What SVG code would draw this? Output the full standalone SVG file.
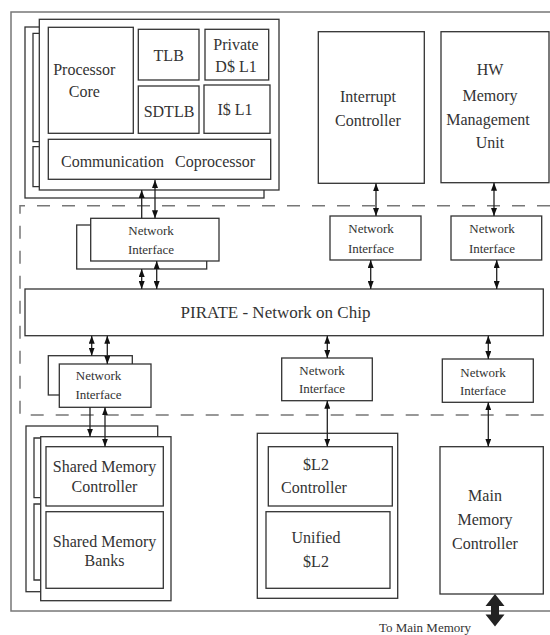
<svg xmlns="http://www.w3.org/2000/svg" width="550" height="635" viewBox="0 0 550 635">
  <style>
    .box { fill: #fff; stroke: #333; stroke-width: 1.3; }
    .shadow { fill: none; stroke: #333; stroke-width: 1.3; }
    .frame { fill: none; stroke: #777; stroke-width: 1.5; }
    .dash { fill: none; stroke: #777; stroke-width: 1.5; stroke-dasharray: 13 12; }
    .lbl { font-family: 'Liberation Serif', 'Times New Roman', 'DejaVu Serif', serif; font-size: 16px; fill: #333; text-anchor: middle; }
    .ni { font-size: 13px; }
    .big { font-size: 17px; }
    .link { stroke: #222; stroke-width: 1.3; fill: none; }
  </style>
  <defs>
    <marker id="ah" viewBox="0 0 8 6" refX="8" refY="3" markerWidth="8" markerHeight="6" markerUnits="userSpaceOnUse" orient="auto-start-reverse">
      <path d="M0,0 L8,3 L0,6 z" fill="#111"/>
    </marker>
  </defs>

  <rect fill="#fff" x="0" y="0" width="550" height="635"/>

  <!-- chip boundary and network region -->
  <rect class="frame" x="11" y="12" width="560" height="599"/>
  <path class="dash" d="M550,205.7 H20 V415 H550"/>

  <!-- processor tile stack -->
  <g id="processor-tile">
    <rect class="box" x="25" y="27" width="239" height="171"/>
    <path class="shadow" d="M39.3,33.3 H33 V141.7 H39.3 M39.3,146.7 H33 V186.7 H39.3"/>
    <rect class="box" x="39.3" y="19.3" width="239.7" height="170.7"/>
    <rect class="box" x="48.3" y="27.3" width="85" height="106"/>
    <text class="lbl" x="84.3" y="75" font-family="Liberation Serif, serif">Processor</text>
    <text class="lbl" x="84.3" y="96.7">Core</text>
    <rect class="box" x="138.3" y="29.3" width="60.7" height="50.7"/>
    <text class="lbl" x="168.7" y="61">TLB</text>
    <rect class="box" x="205" y="29.3" width="63.7" height="50.7"/>
    <text class="lbl" x="236" y="50">Private</text>
    <text class="lbl" x="236" y="71.7">D$ L1</text>
    <rect class="box" x="138.3" y="86" width="60.7" height="47.3"/>
    <text class="lbl" x="169" y="117.3">SDTLB</text>
    <rect class="box" x="204" y="85" width="66" height="48.3"/>
    <text class="lbl" x="235" y="115">I$ L1</text>
    <rect class="box" x="48.3" y="139.3" width="222.4" height="40"/>
    <text class="lbl" x="158" y="166.7" word-spacing="7">Communication Coprocessor</text>
  </g>

  <g id="interrupt-controller">
    <rect class="box" x="318.3" y="31.7" width="106" height="151.6"/>
    <text class="lbl" x="368" y="101.7">Interrupt</text>
    <text class="lbl" x="368" y="126">Controller</text>
  </g>

  <g id="hw-mmu">
    <rect class="box" x="441" y="31.7" width="108" height="151"/>
    <text class="lbl" x="490" y="75">HW</text>
    <text class="lbl" x="490" y="100.7">Memory</text>
    <text class="lbl" x="488" y="125">Management</text>
    <text class="lbl" x="490" y="148.3">Unit</text>
  </g>

  <!-- network interfaces, upper row -->
  <g id="ni-processor">
    <rect class="box" x="76.7" y="225" width="130" height="44"/>
    <rect class="box" x="90.7" y="218.3" width="128.3" height="42.7"/>
    <text class="lbl ni" x="151" y="235">Network</text>
    <text class="lbl ni" x="151" y="253.5">Interface</text>
  </g>
  <g id="ni-interrupt">
    <rect class="box" x="330" y="216" width="91" height="44"/>
    <text class="lbl ni" x="371" y="233.3">Network</text>
    <text class="lbl ni" x="371" y="252.7">Interface</text>
  </g>
  <g id="ni-mmu">
    <rect class="box" x="451" y="216" width="90.7" height="44"/>
    <text class="lbl ni" x="492" y="233.3">Network</text>
    <text class="lbl ni" x="492" y="252.7">Interface</text>
  </g>

  <g id="noc">
    <rect class="box" x="25" y="289" width="518.3" height="46.7"/>
    <text class="lbl big" x="275.5" y="318.3">PIRATE - Network on Chip</text>
  </g>

  <!-- network interfaces, lower row -->
  <g id="ni-shared-memory">
    <rect class="box" x="48.3" y="355.7" width="84" height="39.3"/>
    <rect class="box" x="59.3" y="364" width="91.7" height="43.3"/>
    <text class="lbl ni" x="98.5" y="380">Network</text>
    <text class="lbl ni" x="98.5" y="399">Interface</text>
  </g>
  <g id="ni-l2">
    <rect class="box" x="281.7" y="358" width="90.6" height="42.7"/>
    <text class="lbl ni" x="322" y="375">Network</text>
    <text class="lbl ni" x="322" y="393.3">Interface</text>
  </g>
  <g id="ni-main-memory">
    <rect class="box" x="442.3" y="359" width="91" height="43.3"/>
    <text class="lbl ni" x="483" y="376.7">Network</text>
    <text class="lbl ni" x="483" y="394.5">Interface</text>
  </g>

  <!-- shared memory tile stack -->
  <g id="shared-memory">
    <rect class="box" x="26" y="426" width="131.7" height="165.7"/>
    <path class="shadow" d="M40.7,438 H34 V497.7 H40.7 M40.7,504 H34 V580 H40.7"/>
    <rect class="box" x="40.7" y="436.7" width="130.3" height="164"/>
    <rect class="box" x="46" y="446.7" width="117.3" height="59.3"/>
    <text class="lbl" x="104.5" y="471.7">Shared Memory</text>
    <text class="lbl" x="104.5" y="491.7">Controller</text>
    <rect class="box" x="46" y="511.7" width="117.3" height="76.6"/>
    <text class="lbl" x="104.5" y="546.7">Shared Memory</text>
    <text class="lbl" x="104.5" y="565.7">Banks</text>
  </g>

  <g id="l2-cache">
    <rect class="box" x="257.3" y="433.3" width="140.4" height="165"/>
    <rect class="box" x="268.3" y="446.7" width="124" height="59.3"/>
    <text class="lbl" x="316" y="470">$L2</text>
    <text class="lbl" x="314" y="493.3">Controller</text>
    <rect class="box" x="266" y="511.7" width="124" height="76.6"/>
    <text class="lbl" x="316" y="542.7">Unified</text>
    <text class="lbl" x="316" y="566.7">$L2</text>
  </g>

  <g id="main-memory-controller">
    <rect class="box" x="440" y="446.7" width="103.3" height="147.3"/>
    <text class="lbl" x="485" y="500.7">Main</text>
    <text class="lbl" x="485" y="525">Memory</text>
    <text class="lbl" x="485" y="549">Controller</text>
  </g>

  <text class="lbl ni" x="425" y="632">To Main Memory</text>

  <!-- connectors -->
  <g id="connectors">
    <line class="link" x1="141.7" y1="218.3" x2="141.7" y2="190" marker-end="url(#ah)"/>
    <line class="link" x1="155" y1="180" x2="155" y2="218.3" marker-start="url(#ah)" marker-end="url(#ah)"/>
    <line class="link" x1="141.7" y1="269" x2="141.7" y2="289" marker-start="url(#ah)" marker-end="url(#ah)"/>
    <line class="link" x1="156.7" y1="261" x2="156.7" y2="289" marker-start="url(#ah)" marker-end="url(#ah)"/>
    <line class="link" x1="376" y1="183.3" x2="376" y2="216" marker-start="url(#ah)" marker-end="url(#ah)"/>
    <line class="link" x1="494" y1="182.7" x2="494" y2="216" marker-start="url(#ah)" marker-end="url(#ah)"/>
    <line class="link" x1="370.7" y1="260" x2="370.7" y2="289" marker-start="url(#ah)" marker-end="url(#ah)"/>
    <line class="link" x1="496.7" y1="260" x2="496.7" y2="289" marker-start="url(#ah)" marker-end="url(#ah)"/>
    <line class="link" x1="91.7" y1="335.7" x2="91.7" y2="355.7" marker-start="url(#ah)" marker-end="url(#ah)"/>
    <line class="link" x1="107.3" y1="335.7" x2="107.3" y2="364" marker-start="url(#ah)" marker-end="url(#ah)"/>
    <line class="link" x1="327.3" y1="335.7" x2="327.3" y2="358" marker-start="url(#ah)" marker-end="url(#ah)"/>
    <line class="link" x1="488.3" y1="335.7" x2="488.3" y2="359" marker-start="url(#ah)" marker-end="url(#ah)"/>
    <line class="link" x1="90" y1="407.3" x2="90" y2="436.7" marker-end="url(#ah)"/>
    <line class="link" x1="105" y1="407.3" x2="105" y2="446.7" marker-start="url(#ah)" marker-end="url(#ah)"/>
    <line class="link" x1="327.3" y1="400.7" x2="327.3" y2="446.7" marker-start="url(#ah)" marker-end="url(#ah)"/>
    <line class="link" x1="488.3" y1="402.3" x2="488.3" y2="446.7" marker-start="url(#ah)" marker-end="url(#ah)"/>
    <path d="M495,594 L504.5,606 H499 V614.5 H504.5 L495,626.5 L485.5,614.5 H491 V606 H485.5 Z" fill="#222"/>
  </g>
</svg>
